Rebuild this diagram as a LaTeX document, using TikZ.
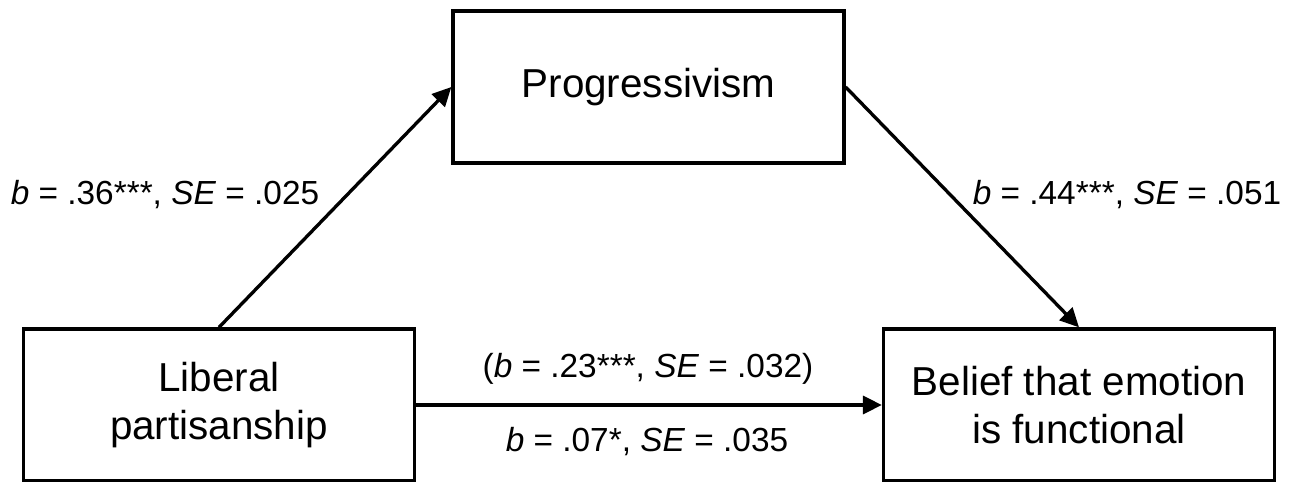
\documentclass[tikz,border=0pt]{standalone}
\usepackage{fontspec}
\setmainfont{Liberation Sans}
\usetikzlibrary{arrows.meta}

\begin{document}
\begin{tikzpicture}[
    x=0.02cm,
    y=-0.02cm,
    construct/.style={
        rectangle,
        draw,
        line width=1.9pt,
        minimum width=7.82cm,
        minimum height=3.04cm,
        align=center,
        font=\fontsize{23}{27}\selectfont
    },
    effect/.style={
        -{Triangle[length=0.38cm,width=0.36cm]},
        line width=1.9pt
    },
    coef/.style={
        font=\fontsize{19}{23}\selectfont
    }
]

    \useasboundingbox (0,0) rectangle (1291,482);

    \node[construct] (P) at (648.5,87) {Progressivism};
    \node[construct] (L) at (219,405) {Liberal\\partisanship};
    \node[construct] (B) at (1079,405) {Belief that emotion\\is functional};

    \draw[effect] (L.north) -- (P.west);
    \draw[effect] (P.east) -- (B.north);
    \draw[effect] (L.east) -- (B.west);

    \node[coef] (a) at (165,195) {\textit{b} = .36***, \textit{SE} = .025};
    \node[coef] (b) at (1127,195) {\textit{b} = .44***, \textit{SE} = .051};
    \node[coef] (c1) at (648,369) {(\textit{b} = .23***, \textit{SE} = .032)};
    \node[coef] (c2) at (647,442) {\textit{b} = .07*, \textit{SE} = .035};

\end{tikzpicture}
\end{document}
